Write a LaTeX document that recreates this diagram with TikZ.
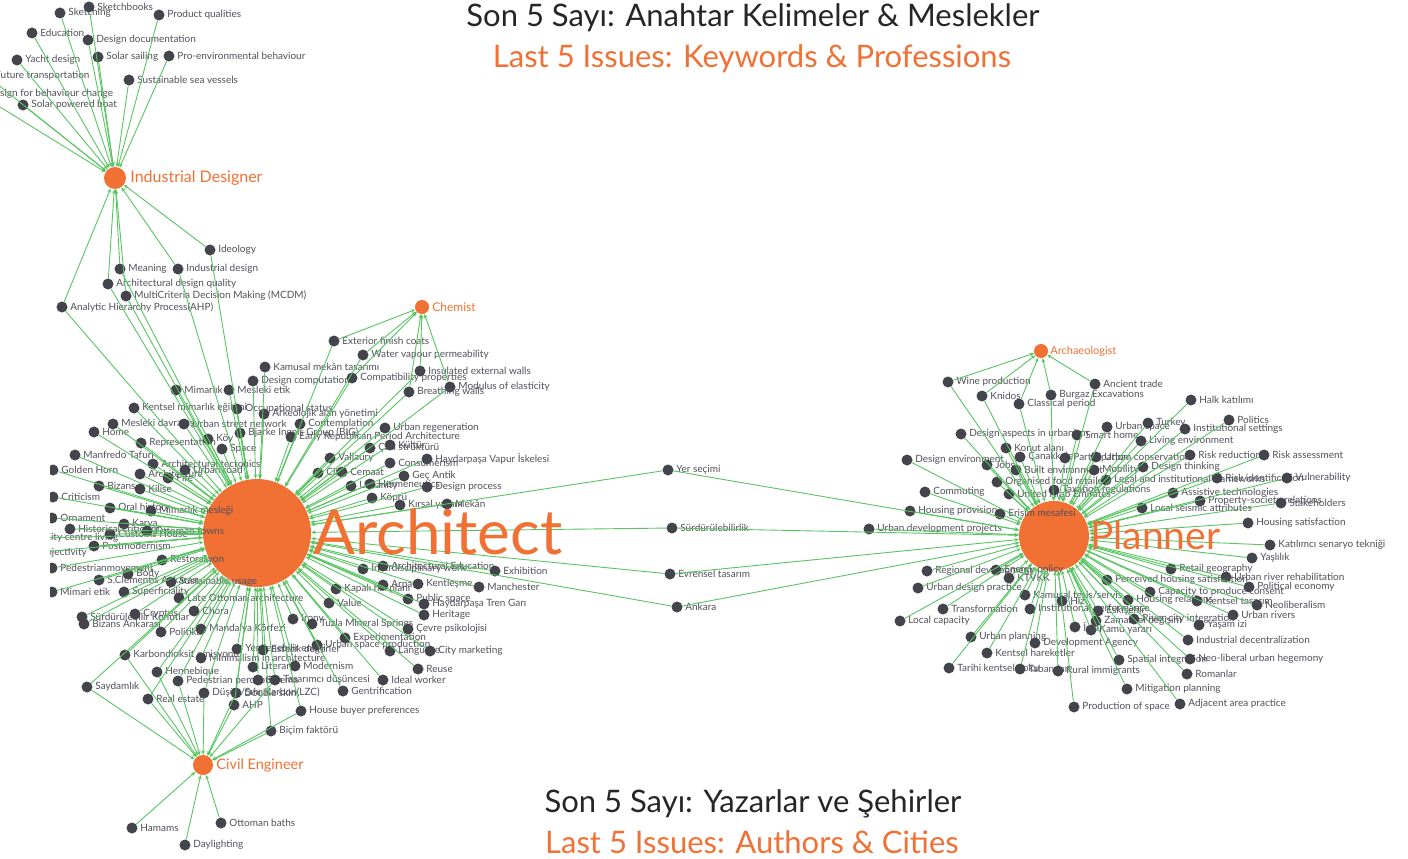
\documentclass[tikz,border=0pt]{standalone}
\usepackage{fontspec}
\setmainfont{Lato}
\usepackage{xcolor}
\usetikzlibrary{arrows.meta, positioning}
\definecolor{hubor}{RGB}{241,112,52}
\definecolor{dotgr}{RGB}{68,68,76}
\definecolor{txtgr}{RGB}{80,80,90}
\definecolor{edgegr}{RGB}{88,196,98}
\newcommand{\kw}[4]{\node[kw, label={[lbl]right:{#4}}] (#1) at (#2,#3) {};}
\tikzset{
    kw/.style={circle, fill=dotgr, inner sep=0pt, minimum size=11pt},
    lbl/.style={font=\fontsize{10}{11}\selectfont, text=txtgr, inner sep=0pt},
    hub/.style={circle, fill=hubor, inner sep=0pt},
    hublbl/.style={text=hubor, inner sep=0pt},
    edge/.style={draw=edgegr, line width=0.9pt, -{Stealth[length=4.5pt, width=3.5pt]}},
    title/.style={font=\fontsize{31}{33}\selectfont, anchor=base, inner sep=0pt}
}

\begin{document}
\begin{tikzpicture}[x=1pt, y=-1pt, label distance=2.5pt]
                        \useasboundingbox (0,0) rectangle (1408,859);
                        \clip (0,0) rectangle (1408,859);

                        \node[title, text=black!85] (t1) at (753,27) {Son 5 Sayı: Anahtar Kelimeler \& Meslekler};
                        \node[title, text=hubor] (t2) at (752,67) {Last 5 Issues: Keywords \& Professions};
                        \node[title, text=black!85] (t3) at (753,812) {Son 5 Sayı: Yazarlar ve Şehirler};
                        \node[title, text=hubor] (t4) at (752,853) {Last 5 Issues: Authors \& Cities};

                        \node[hub, minimum size=22pt, label={[hublbl, font=\fontsize{16}{18}\selectfont, label distance=4pt]right:Industrial Designer}] (ind) at (115,178) {};
                        \node[hub, minimum size=14pt, label={[hublbl, font=\fontsize{12}{14}\selectfont, label distance=3pt]right:Chemist}] (chem) at (422,307) {};
                        \node[hub, minimum size=108pt] (arch) at (257,533) {};
                        \node[hub, minimum size=20pt, label={[hublbl, font=\fontsize{14.5}{16}\selectfont, label distance=3pt]right:Civil Engineer}] (civ) at (203,765) {};
                        \node[hub, minimum size=14pt, label={[hublbl, font=\fontsize{11}{13}\selectfont, label distance=2pt]right:Archaeologist}] (archaeo) at (1041,351) {};
                        \node[hub, minimum size=70pt] (plan) at (1054,536) {};

                        \kw{sketching}{60}{13}{Sketching}
                        \kw{sketchbooks}{89}{7}{Sketchbooks}
                        \kw{prodq}{159}{15}{Product qualities}
                        \kw{educ}{32}{33}{Education}
                        \kw{desdoc}{88}{40}{Design documentation}
                        \kw{yacht}{17}{60}{Yacht design}
                        \kw{solsail}{98}{57}{Solar sailing}
                        \kw{proenv}{169}{56}{Pro-environmental behaviour}
                        \kw{futtr}{-13}{76}{Future transportation}
                        \kw{susvess}{129}{80}{Sustainable sea vessels}
                        \kw{desbeh}{-21}{94}{Design for behaviour change}
                        \kw{solboat}{23}{105}{Solar powered boat}

                        \kw{ideology}{210}{250}{Ideology}
                        \kw{meaning}{120}{269}{Meaning}
                        \kw{inddes}{178}{269}{Industrial design}
                        \kw{adq}{108}{284}{Architectural design quality}
                        \kw{mcdm}{126}{296}{MultiCriteria Decision Making (MCDM)}
                        \kw{ahpa}{62}{307}{Analytic Hierarchy Process(AHP)}

                        \kw{extfin}{334}{341}{Exterior finish coats}
                        \kw{wvp}{363}{355}{Water vapour permeability}
                        \kw{insul}{420}{371}{Insulated external walls}
                        \kw{compat}{352}{378}{Compatibility properties}
                        \kw{modul}{450}{387}{Modulus of elasticity}
                        \kw{breath}{409}{392}{Breathing walls}

                        \kw{kamusal}{265}{367}{Kamusal mekân tasarımı}
                        \kw{descomp}{253}{381}{Design computation}
                        \kw{mimarlik}{176}{390}{Mimarlık}
                        \kw{mesetik}{229}{390}{Mesleki etik}
                        \kw{kentmim}{134}{408}{Kentsel mimarlık eğitimi}
                        \kw{occst}{237}{409}{Occupational status}
                        \kw{arkalan}{264}{414}{Arkeolojik alan yönetimi}
                        \kw{mesdav}{113}{424}{Mesleki davranış}
                        \kw{ustreet}{184}{424}{Urban street network}
                        \kw{contemp}{300}{424}{Contemplation}
                        \kw{urbregen}{385}{428}{Urban regeneration}
                        \kw{home}{94}{432}{Home}
                        \kw{reprs}{141}{443}{Representation}
                        \kw{koy}{208}{439}{Köy}
                        \kw{big}{240}{433}{Bjarke Ingels Group (BIG)}
                        \kw{erpa}{291}{437}{Early Republican Period Architecture}
                        \kw{kultur}{390}{445}{Kültür}
                        \kw{catistr}{370}{448}{Çatı strüktürü}
                        \kw{tafuri}{75}{455}{Manfredo Tafuri}
                        \kw{spol}{222}{449}{Space}
                        \kw{haydv}{427}{459}{Haydarpaşa Vapur İskelesi}
                        \kw{consum}{390}{463}{Consumerism}
                        \kw{vallaury}{330}{458}{Vallaury}
                        \kw{golden}{53}{470}{Golden Horn}
                        \kw{arctec}{153}{464}{Architectural tectonics}
                        \kw{urbroad}{185}{470}{Urban road}
                        \kw{archit}{140}{474}{Architecture}
                        \kw{fire}{168}{478}{Fire}
                        \kw{gecant}{404}{476}{Geç Antik}
                        \kw{dekor}{342}{472}{Cemaat}
                        \kw{cit}{318}{473}{City}
                        \kw{bizans}{99}{486}{Bizans}
                        \kw{kilise}{140}{489}{Kilise}
                        \kw{herm}{370}{484}{Hermeneutics}
                        \kw{urbanity}{351}{486}{Urbanity}
                        \kw{desproc}{427}{487}{Design process}
                        \kw{kopru}{372}{498}{Köprü}
                        \kw{kirsal}{400}{505}{Kırsal yaşam}
                        \kw{mekan}{447}{504}{Mekân}
                        \kw{critic}{53}{497}{Criticism}
                        \kw{oral}{110}{508}{Oral history}
                        \kw{mimmes}{151}{511}{Mimarlık mesleği}
                        \kw{ornam}{52}{518}{Ornament}
                        \kw{karya}{124}{524}{Karya}
                        \kw{histcr}{70}{529}{Historical criticism}
                        \kw{customs}{110}{534}{Customs House}
                        \kw{ottowns}{147}{531}{Ottoman towns}
                        \kw{citycl}{36}{538}{City centre living}
                        \kw{postmod}{94}{546}{Postmodernism}
                        \kw{objec}{30}{553}{Objectivity}
                        \kw{restor}{162}{560}{Restorasyon}
                        \kw{pedmov}{52}{568}{Pedestrianmovement}
                        \kw{body}{128}{574}{Body}
                        \kw{sclem}{99}{580}{S.Clementis Ankarası}
                        \kw{sususe}{171}{582}{Sustainable usage}
                        \kw{mimetik}{52}{592}{Mimari etik}
                        \kw{superf}{124}{592}{Superficiality}
                        \kw{lateott}{179}{598}{Late Ottoman architecture}
                        \kw{surdkon}{82}{617}{Sürdürülebilir Konutlar}
                        \kw{cryptus}{135}{614}{Cryptus}
                        \kw{bizank}{84}{624}{Bizans Ankarası}
                        \kw{chora}{194}{611}{Chora}
                        \kw{mandalya}{201}{629}{Mandalya Körfezi}
                        \kw{politi}{161}{632}{Politika}
                        \kw{karbon}{125}{655}{Karbondioksit emisyonu}
                        \kw{yenil}{237}{649}{Yenilenebilir enerji}
                        \kw{minim}{201}{658}{Minimalism in architecture}
                        \kw{henneb}{157}{672}{Hennebique}
                        \kw{literary}{253}{667}{Literary}
                        \kw{saydam}{87}{687}{Saydamlık}
                        \kw{pedper}{178}{681}{Pedestrian perception}
                        \kw{sinema}{258}{680}{Sinema}
                        \kw{dusuk}{204}{693}{Düşük/Sıfır Karbon(LZC)}
                        \kw{double}{236}{693}{Double skin}
                        \kw{realest}{148}{699}{Real estate}
                        \kw{ahpb}{234}{705}{AHP}

                        \kw{interd}{363}{569}{Interdisciplinary work}
                        \kw{archedu}{383}{566}{Architectural Education}
                        \kw{exhib}{495}{571}{Exhibition}
                        \kw{kapali}{336}{589}{Kapalı hal planı}
                        \kw{arpa}{383}{585}{Arpa}
                        \kw{kentles}{418}{584}{Kentleşme}
                        \kw{manch}{479}{587}{Manchester}
                        \kw{value}{329}{603}{Value}
                        \kw{pubsp}{408}{599}{Public space}
                        \kw{haydt}{424}{604}{Haydarpaşa Tren Garı}
                        \kw{herit}{424}{615}{Heritage}
                        \kw{irony}{293}{619}{Irony}
                        \kw{tuzla}{312}{624}{Tuzla Mineral Springs}
                        \kw{cevrep}{408}{629}{Çevre psikolojisi}
                        \kw{exper}{345}{638}{Experimentation}
                        \kw{usprod}{317}{645}{Urban space production}
                        \kw{estdeg}{263}{650}{Estetik değerler}
                        \kw{lang}{390}{651}{Language}
                        \kw{citym}{430}{651}{City marketing}
                        \kw{modern}{295}{666}{Modernism}
                        \kw{reuse}{418}{669}{Reuse}
                        \kw{tasdus}{275}{680}{Tasarımcı düşüncesi}
                        \kw{ideal}{383}{680}{Ideal worker}
                        \kw{gentr}{343}{691}{Gentrification}
                        \kw{housebuy}{301}{711}{House buyer preferences}
                        \kw{bicim}{271}{731}{Biçim faktörü}

                        \kw{hamams}{132}{828}{Hamams}
                        \kw{ottbath}{221}{823}{Ottoman baths}
                        \kw{daylight}{185}{845}{Daylighting}

                        \kw{yersec}{668}{470}{Yer seçimi}
                        \kw{surd}{672}{528}{Sürdürülebilirlik}
                        \kw{evrens}{670}{574}{Evrensel tasarım}
                        \kw{ankara}{677}{607}{Ankara}

                        \kw{wine}{948}{382}{Wine production}
                        \kw{knidos}{982}{396}{Knidos}
                        \kw{burgaz}{1051}{395}{Burgaz Excavations}
                        \kw{classic}{1019}{404}{Classical period}
                        \kw{ancient}{1095}{384}{Ancient trade}
                        \kw{halk}{1191}{400}{Halk katılımı}
                        \kw{politics}{1229}{420}{Politics}
                        \kw{urbsp}{1107}{427}{Urban space}
                        \kw{turkey}{1148}{423}{Turkey}
                        \kw{instset}{1185}{429}{Institutional settings}
                        \kw{desasp}{961}{434}{Design aspects in urbanism}
                        \kw{smarth}{1077}{435}{Smart home}
                        \kw{livenv}{1141}{441}{Living environment}
                        \kw{konut}{1006}{448}{Konut alanı}
                        \kw{desenv}{907}{460}{Design environment}
                        \kw{canak}{1020}{457}{Çanakkale}
                        \kw{part}{1065}{458}{Participation}
                        \kw{urbcons}{1096}{457}{Urban conservation}
                        \kw{riskred}{1190}{455}{Risk reduction}
                        \kw{riskass}{1264}{455}{Risk assessment}
                        \kw{jobs}{987}{465}{Jobs}
                        \kw{builtenv}{1016}{470}{Built environment}
                        \kw{desthink}{1143}{467}{Design thinking}
                        \kw{mobility}{1094}{470}{Mobility}
                        \kw{orgfood}{997}{482}{Organised food retailers}
                        \kw{legal}{1106}{480}{Legal and institutional frameworks}
                        \kw{riskid}{1217}{478}{Risk identification}
                        \kw{vulner}{1287}{478}{Vulnerability}
                        \kw{commut}{925}{492}{Commuting}
                        \kw{uae}{1009}{494}{United Arab Emirates}
                        \kw{taxreg}{1054}{490}{Taxation regulations}
                        \kw{assist}{1173}{493}{Assistive technologies}
                        \kw{propsoc}{1200}{501}{Property-society relations}
                        \kw{stake}{1281}{503}{Stakeholders}
                        \kw{housprov}{910}{511}{Housing provision}
                        \kw{erisim}{1000}{514}{Erişim mesafesi}
                        \kw{localseis}{1142}{508}{Local seismic attributes}
                        \kw{houssat}{1248}{523}{Housing satisfaction}
                        \kw{katil}{1270}{545}{Katılımcı senaryo tekniği}
                        \kw{urbdev}{869}{529}{Urban development projects}
                        \kw{yasli}{1252}{558}{Yaşlılık}
                        \kw{retail}{1171}{569}{Retail geography}
                        \kw{urbriv}{1226}{577}{Urban river rehabilitation}
                        \kw{polec}{1249}{587}{Political economy}
                        \kw{neolib}{1257}{605}{Neoliberalism}
                        \kw{regdev}{927}{571}{Regional development}
                        \kw{energy}{996}{570}{Energy policy}
                        \kw{ktvkk}{1009}{578}{KTVKK}
                        \kw{urbdp}{918}{588}{Urban design practice}
                        \kw{perc}{1107}{580}{Perceived housing satisfaction}
                        \kw{capac}{1150}{592}{Capacity to produce consent}
                        \kw{housrel}{1128}{600}{Housing relations}
                        \kw{kenttas}{1197}{601}{Kentsel tasarım}
                        \kw{hiz}{1062}{601}{Hız}
                        \kw{kamtes}{1025}{595}{Kamusal tesis/servis}
                        \kw{transf}{943}{609}{Transformation}
                        \kw{instperf}{1030}{609}{Institutional performance}
                        \kw{eskis}{1098}{611}{Eskişehir}
                        \kw{loccap}{900}{621}{Local capacity}
                        \kw{urbrivers}{1233}{615}{Urban rivers}
                        \kw{zaman}{1096}{621}{Zamansal değişim}
                        \kw{rivcity}{1134}{619}{River-city integration}
                        \kw{kamuy}{1091}{630}{Kamu yararı}
                        \kw{imar}{1075}{627}{İmar}
                        \kw{yasamizi}{1199}{625}{Yaşam izi}
                        \kw{urbplan}{971}{637}{Urban planning}
                        \kw{devag}{1035}{643}{Development Agency}
                        \kw{inddec}{1188}{640}{Industrial decentralization}
                        \kw{kenthar}{987}{653}{Kentsel hareketler}
                        \kw{spatint}{1119}{660}{Spatial integration}
                        \kw{neolibh}{1190}{659}{Neo-liberal urban hegemony}
                        \kw{tarihi}{949}{668}{Tarihi kentsel doku}
                        \kw{taban}{1020}{669}{Tabandan}
                        \kw{rural}{1058}{671}{Rural immigrants}
                        \kw{romanlar}{1187}{674}{Romanlar}
                        \kw{mitig}{1127}{689}{Mitigation planning}
                        \kw{prodsp}{1074}{707}{Production of space}
                        \kw{adjac}{1180}{704}{Adjacent area practice}

                        \foreach \k in {sketching, sketchbooks, prodq, educ, desdoc, yacht, solsail, proenv, futtr, susvess, desbeh, solboat,
                            ideology, meaning, inddes, adq, mcdm, ahpa}
                            \draw[edge] (\k) -- (ind);
                        \foreach \k in {extfin, wvp, insul, compat, modul, breath}
                            \draw[edge] (\k) -- (chem);
                        \foreach \k in {wine, knidos, burgaz, classic, ancient}
                            \draw[edge] (\k) -- (archaeo);
                        \foreach \k in {saydam, karbon, henneb, realest, pedper, dusuk, double, ahpb, tasdus, housebuy, bicim, hamams, ottbath, daylight}
                            \draw[edge] (\k) -- (civ);
                        \foreach \k in {ideology, meaning, inddes, adq, mcdm, ahpa, extfin, wvp, insul, compat, modul, breath,
                            kamusal, descomp, mimarlik, mesetik, kentmim, occst, arkalan, mesdav, ustreet, contemp, urbregen, home, reprs,
                            koy, big, erpa, kultur, catistr, tafuri, spol, haydv, consum, vallaury, golden, arctec, urbroad, archit, fire,
                            gecant, dekor, cit, bizans, kilise, herm, urbanity, desproc, kopru, kirsal, mekan, critic, oral, mimmes, ornam,
                            karya, histcr, customs, ottowns, citycl, postmod, objec, restor, pedmov, body, sclem, sususe, mimetik, superf,
                            lateott, surdkon, cryptus, bizank, chora, mandalya, politi, karbon, yenil, minim, henneb, literary, saydam,
                            pedper, sinema, dusuk, double, realest, ahpb, interd, archedu, exhib, kapali, arpa, kentles, manch, value,
                            pubsp, haydt, herit, irony, tuzla, cevrep, exper, usprod, estdeg, lang, citym, modern, reuse, tasdus, ideal,
                            gentr, housebuy, bicim, yersec, surd, evrens, ankara}
                            \draw[edge] (\k) -- (arch);
                        \foreach \k in {wine, knidos, burgaz, classic, ancient, halk, politics, urbsp, turkey, instset, desasp, smarth,
                            livenv, konut, desenv, canak, part, urbcons, riskred, riskass, jobs, builtenv, desthink, mobility, orgfood,
                            legal, riskid, vulner, commut, uae, taxreg, assist, propsoc, stake, housprov, erisim, localseis, houssat,
                            katil, urbdev, yasli, retail, urbriv, polec, neolib, regdev, energy, ktvkk, urbdp, perc, capac, housrel,
                            kenttas, hiz, kamtes, transf, instperf, eskis, loccap, urbrivers, zaman, rivcity, kamuy, imar, yasamizi,
                            urbplan, devag, inddec, kenthar, spatint, neolibh, tarihi, taban, rural, romanlar, mitig, prodsp, adjac,
                            yersec, surd, evrens, ankara}
                            \draw[edge] (\k) -- (plan);

                        \node[hublbl, font=\fontsize{62}{64}\selectfont, anchor=base west] (archlbl) at (313,554) {Architect};
                        \node[hublbl, font=\fontsize{39}{40}\selectfont, anchor=base west] (planlbl) at (1090,549) {Planner};

                        \fill[white] (0,458) rectangle (50,600);
                    \end{tikzpicture}
\end{document}
